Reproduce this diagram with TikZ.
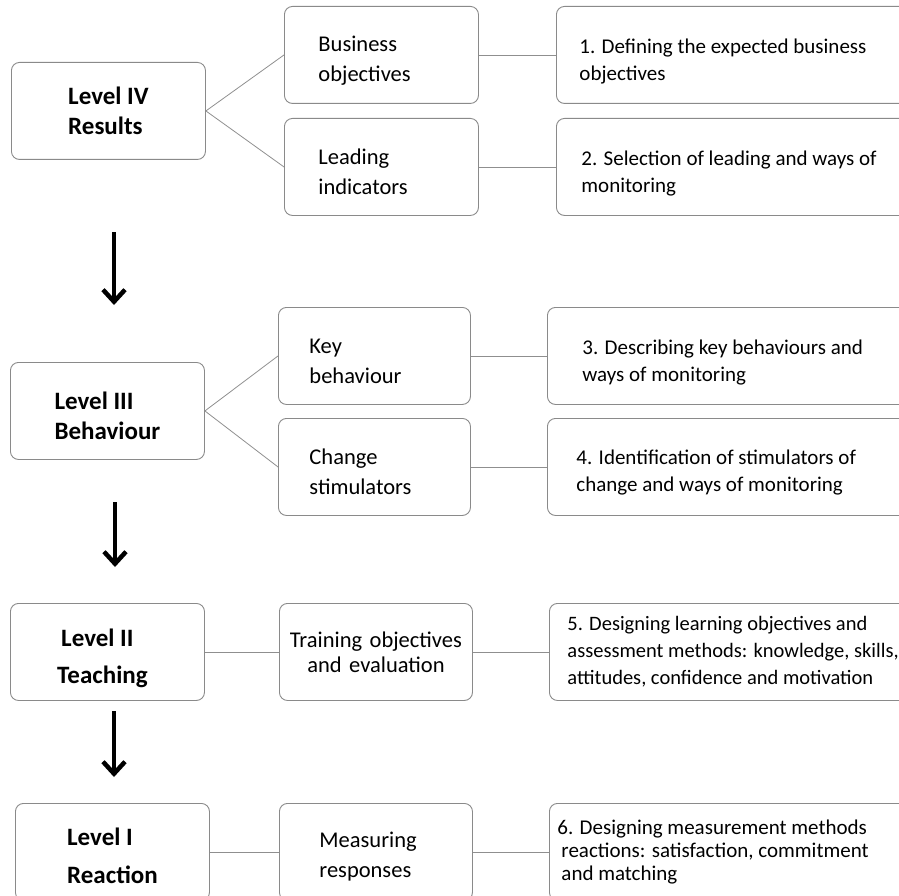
\documentclass[tikz,border=0pt]{standalone}
\usepackage{fontspec}
\setmainfont{Carlito}
\usepackage{tikz}
\usetikzlibrary{arrows.meta}
\definecolor{boxgray}{HTML}{8A8A8A}
\definecolor{linkgray}{HTML}{8F8F8F}

\begin{document}
\begin{tikzpicture}[x=1pt,y=-1pt,
	lvl/.style={draw=boxgray, line width=0.9pt, rounded corners=8pt, anchor=north west, minimum width=194pt, minimum height=97pt, align=flush left, font=\fontsize{25}{30}\selectfont\bfseries},
	mid/.style={draw=boxgray, line width=0.9pt, rounded corners=8pt, anchor=north west, minimum height=97pt, align=flush left, font=\fontsize{22.5}{30}\selectfont},
	desc/.style={draw=boxgray, line width=0.9pt, rounded corners=8pt, anchor=north west, minimum height=97pt, align=flush left, text width=360pt, font=\fontsize{21}{27}\selectfont},
	low/.style={execute at begin node={\noindent\rule{0pt}{#1}}},
	link/.style={draw=linkgray, line width=0.8pt},
	bigarrow/.style={line width=4.5pt, -{Straight Barb[length=12pt,width=22pt]}}]
	\useasboundingbox (0,0) rectangle (899,896);
	%\draw[help lines] (0,0) grid[step=50] (899,896);
	% level IV
	\node[lvl] (l4) at (11,62) {Level IV\\Results};
	\node[mid, low=26pt, inner xsep=34pt, text width=126pt] (bo) at (284,6) {Business\\objectives};
	\node[mid, low=26pt, inner xsep=34pt, text width=126pt] (li) at (284,118) {Leading\\indicators};
	\node[desc, low=27pt, inner xsep=23pt] (d1) at (556,6) {1. Defining the expected business\\objectives};
	\node[desc, low=27pt, inner xsep=25pt] (d2) at (556,118) {2. Selection of leading and ways of\\monitoring};
	\draw[link] (l4.east) -- (bo.west);
	\draw[link] (l4.east) -- (li.west);
	\draw[link] (bo.east) -- (d1.west);
	\draw[link] (li.east) -- (d2.west);
	% level III
	\node[lvl] (l3) at (10,362) {\rule{0pt}{28pt}Level III\\Behaviour};
	\node[mid, low=26pt, inner xsep=31pt, text width=130pt] (kb) at (278,307) {Key\\behaviour};
	\node[mid, low=26pt, inner xsep=31pt, text width=130pt] (cs) at (278,418) {Change\\stimulators};
	\node[desc, low=27pt, inner xsep=35pt] (d3) at (547,307) {3. Describing key behaviours and\\ways of monitoring};
	\node[desc, low=25pt, inner xsep=29pt] (d4) at (547,418) {4. Identification of stimulators of\\change and ways of monitoring};
	\draw[link] (l3.east) -- (kb.west);
	\draw[link] (l3.east) -- (cs.west);
	\draw[link] (kb.east) -- (d3.west);
	\draw[link] (cs.east) -- (d4.west);
	% level II
	\node[lvl] (l2) at (10,603) {\rule{0pt}{30pt}\hspace*{4pt}Level II\\[7pt]Teaching\hspace*{10pt}};
	\node[mid, inner xsep=6pt, text width=181pt, align=center, font=\fontsize{22.5}{25}\selectfont] (to) at (279,603) {Training objectives\\and evaluation};
	\node[desc, inner xsep=18pt, font=\fontsize{20.5}{27}\selectfont] (d5) at (549,603) {5. Designing learning objectives and\\assessment methods: knowledge, skills,\\attitudes, confidence and motivation};
	\draw[link] (l2.east) -- (to.west);
	\draw[link] (to.east) -- (d5.west);
	% level I
	\node[lvl] (l1) at (15,803) {\rule{0pt}{26pt}Level I\\[8pt]Reaction};
	\node[mid, low=24pt, inner xsep=40pt, text width=113pt] (mr) at (279,803) {Measuring\\responses};
	\node[desc, inner xsep=8pt, font=\fontsize{21}{23}\selectfont] (d6) at (549,803) {6. Designing measurement methods\\\hspace*{4pt}reactions: satisfaction, commitment\\\hspace*{4pt}and matching};
	\draw[link] (l1.east) -- (mr.west);
	\draw[link] (mr.east) -- (d6.west);
	% arrows between levels
	\coordinate (a1s) at (114,232); \coordinate (a1e) at (114,305);
	\coordinate (a2s) at (115,502); \coordinate (a2e) at (115,567);
	\coordinate (a3s) at (114,711); \coordinate (a3e) at (114,777);
	\draw[bigarrow] (a1s) -- (a1e);
	\draw[bigarrow] (a2s) -- (a2e);
	\draw[bigarrow] (a3s) -- (a3e);
\end{tikzpicture}
\end{document}
